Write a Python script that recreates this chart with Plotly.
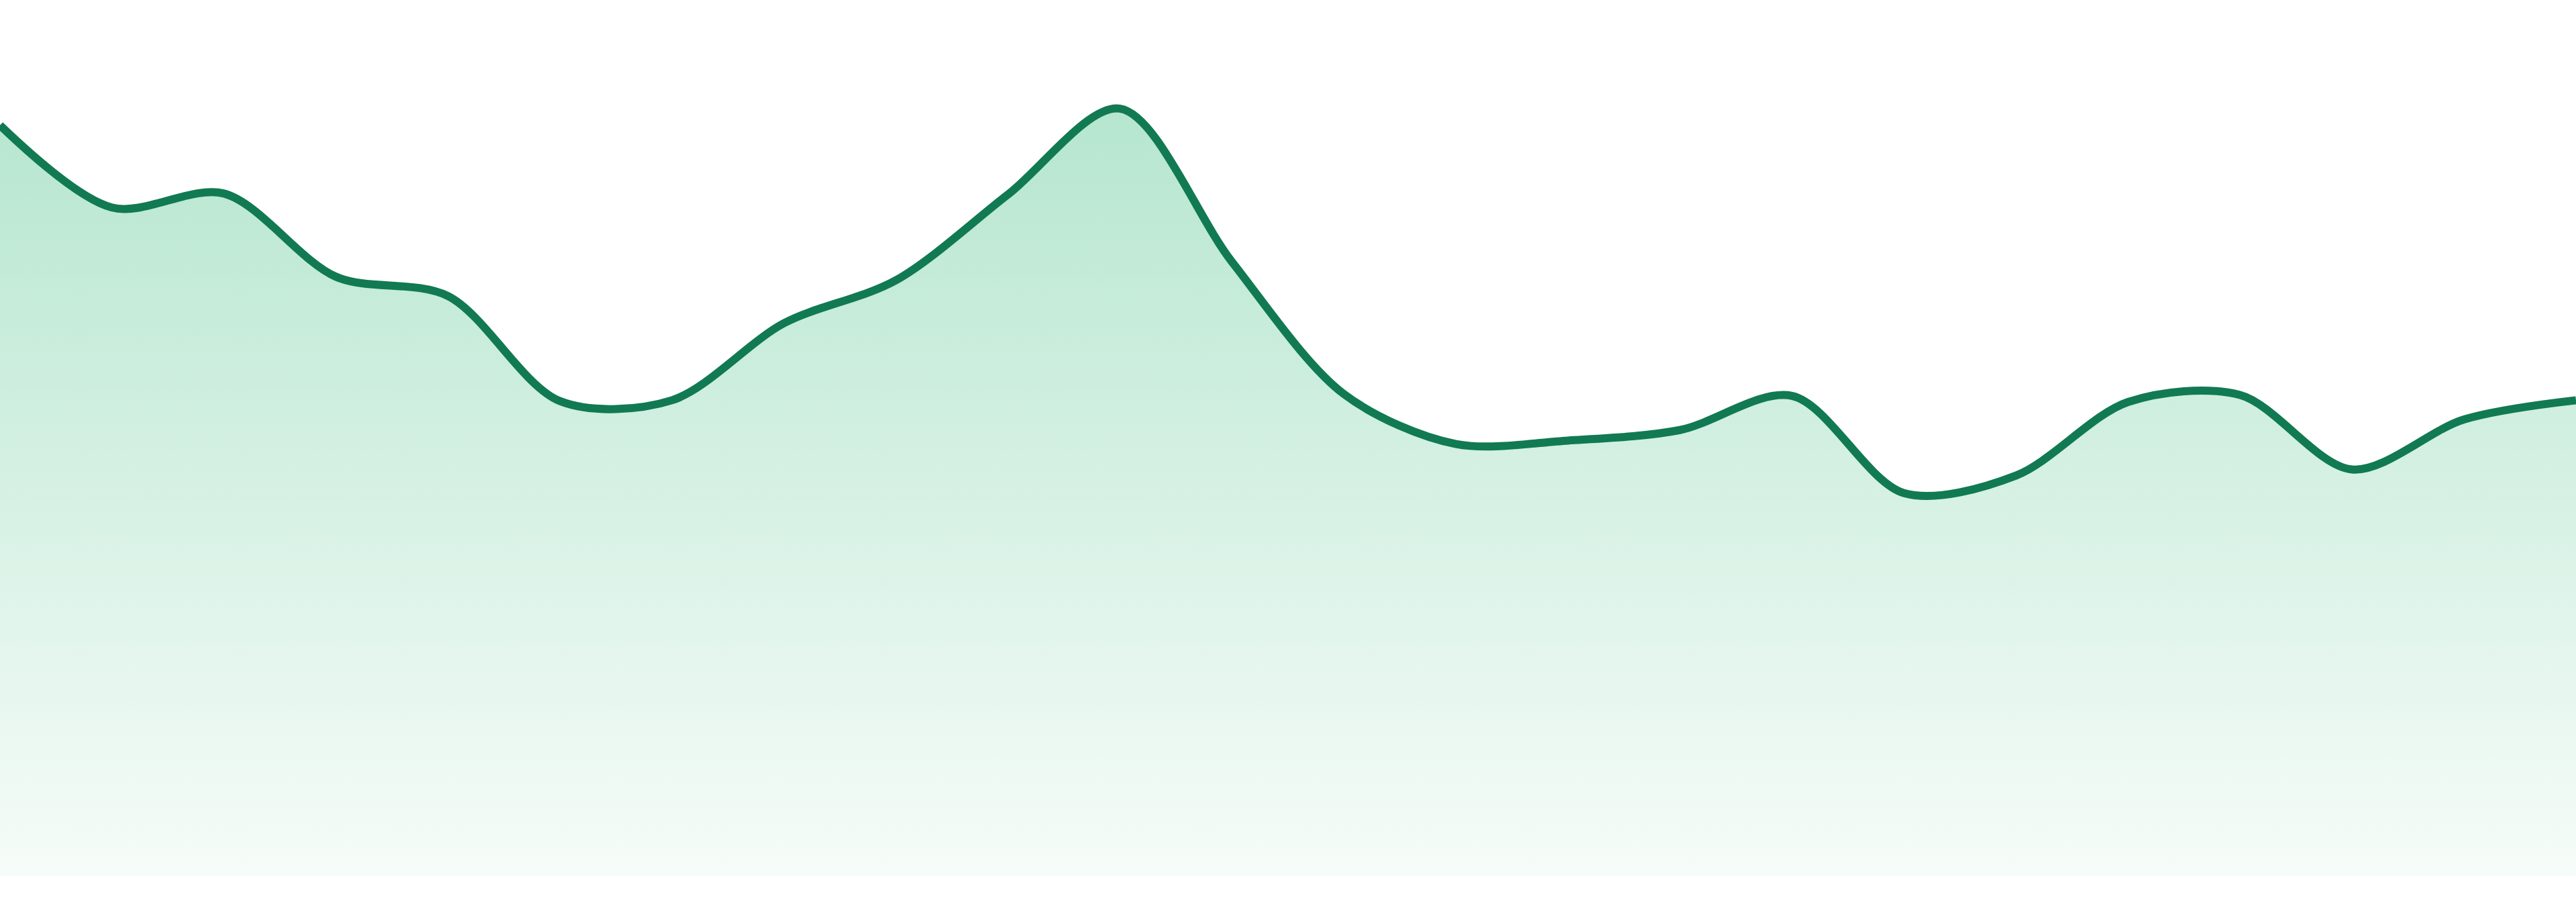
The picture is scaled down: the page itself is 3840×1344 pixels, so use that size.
import plotly.graph_objects as go

# Data (arbitrary units, 24 evenly spaced samples)
periods = list(range(24))
values = [85.7, 76.3, 77.9, 68.4, 66.2, 54.2, 54.3, 63.1, 68.0, 77.8, 87.6, 70.1,
          55.0, 49.3, 49.7, 50.9, 54.8, 43.7, 45.7, 54.1, 54.9, 46.4, 52.1, 54.3]

LINE_COLOR = "#117a52"
FILL_BOTTOM = "#f6fcf9"
FILL_TOP = "#b6e6cf"

fig = go.Figure()
fig.add_trace(go.Scatter(
    x=periods,
    y=values,
    mode="lines",
    line=dict(color=LINE_COLOR, width=12, shape="spline", smoothing=0.9),
    fill="tozeroy",
    fillgradient=dict(
        type="vertical",
        start=0,
        stop=max(values),
        colorscale=[[0.0, FILL_BOTTOM], [1.0, FILL_TOP]],
    ),
    hoverinfo="skip",
    showlegend=False,
))

fig.update_layout(
    width=3840,
    height=1344,
    margin=dict(l=0, r=0, t=0, b=39, pad=0),
    paper_bgcolor="white",
    plot_bgcolor="white",
    showlegend=False,
    xaxis=dict(range=[0, 23], visible=False, showgrid=False, zeroline=False, fixedrange=True),
    yaxis=dict(range=[0, 100], visible=False, showgrid=False, zeroline=False, fixedrange=True),
)

fig.write_html(
    "out.html",
    config={"displayModeBar": False, "responsive": False},
    post_script="document.body.style.margin='0px';",
)
